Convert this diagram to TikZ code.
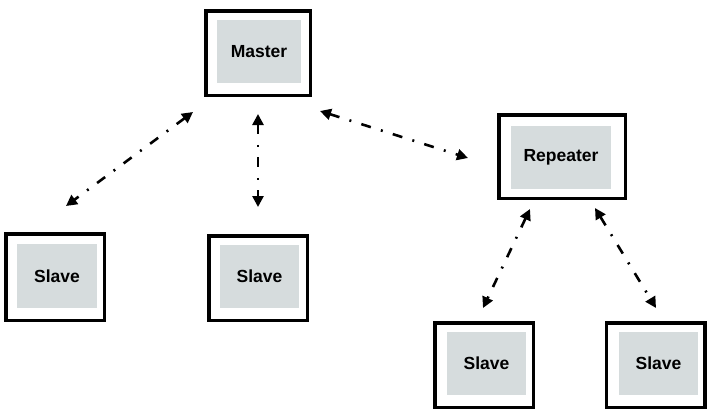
\documentclass[tikz,border=0pt]{standalone}
\usepackage{fontspec}
\setmainfont{Liberation Sans}
\usetikzlibrary{arrows.meta}
\definecolor{boxgrey}{RGB}{214,220,221}
\tikzset{
  outerbox/.style 2 args={draw=black, line width=3.5pt, fill=white, inner sep=0pt,
    minimum width=#1-3.5pt, minimum height=#2-3.5pt},
  innerbox/.style 2 args={fill=boxgrey, draw=none, inner sep=0pt,
    minimum width=#1, minimum height=#2, font=\fontsize{17.5}{20}\selectfont\bfseries},
  link/.style={line width=2.6pt, dash pattern=on 10pt off 10.5pt on 2pt off 10.5pt,
    {Triangle[length=11pt,width=11pt]}-{Triangle[length=11pt,width=11pt]}}
}
\begin{document}
\begin{tikzpicture}[x=1pt,y=-1pt]
\useasboundingbox (0,0) rectangle (716,415);
% boxes
\node[outerbox={108pt}{88pt}] (M) at (258,53) {};
\node[innerbox={84pt}{63pt}] (Mi) at (259,51.5) {Master};
\node[outerbox={130pt}{87pt}] (R) at (562,156.5) {};
\node[innerbox={100pt}{63pt}] (Ri) at (561,157.5) {Repeater};
\node[outerbox={102pt}{90pt}] (S1) at (55,277) {};
\node[innerbox={80pt}{64pt}] (S1i) at (57,276) {Slave};
\node[outerbox={102pt}{88pt}] (S2) at (258,278) {};
\node[innerbox={79pt}{63pt}] (S2i) at (259.5,276.5) {Slave};
\node[outerbox={102pt}{88pt}] (S3) at (484,365) {};
\node[innerbox={79pt}{63pt}] (S3i) at (486.5,363.5) {Slave};
\node[outerbox={102pt}{88pt}] (S4) at (655.5,365) {};
\node[innerbox={79pt}{63pt}] (S4i) at (658.5,363.5) {Slave};
% connector ends
\coordinate (a1s) at (193,112); \coordinate (a1e) at (66,206);
\coordinate (a2s) at (258,114); \coordinate (a2e) at (258,207);
\coordinate (a3s) at (320,111); \coordinate (a3e) at (468,158);
\coordinate (a4s) at (530,209); \coordinate (a4e) at (483,308);
\coordinate (a5s) at (595,208); \coordinate (a5e) at (656,308);
\draw[link] (a1s) -- (a1e);
\draw[link] (a2s) -- (a2e);
\draw[link] (a3s) -- (a3e);
\draw[link] (a4s) -- (a4e);
\draw[link] (a5s) -- (a5e);
\end{tikzpicture}
\end{document}
